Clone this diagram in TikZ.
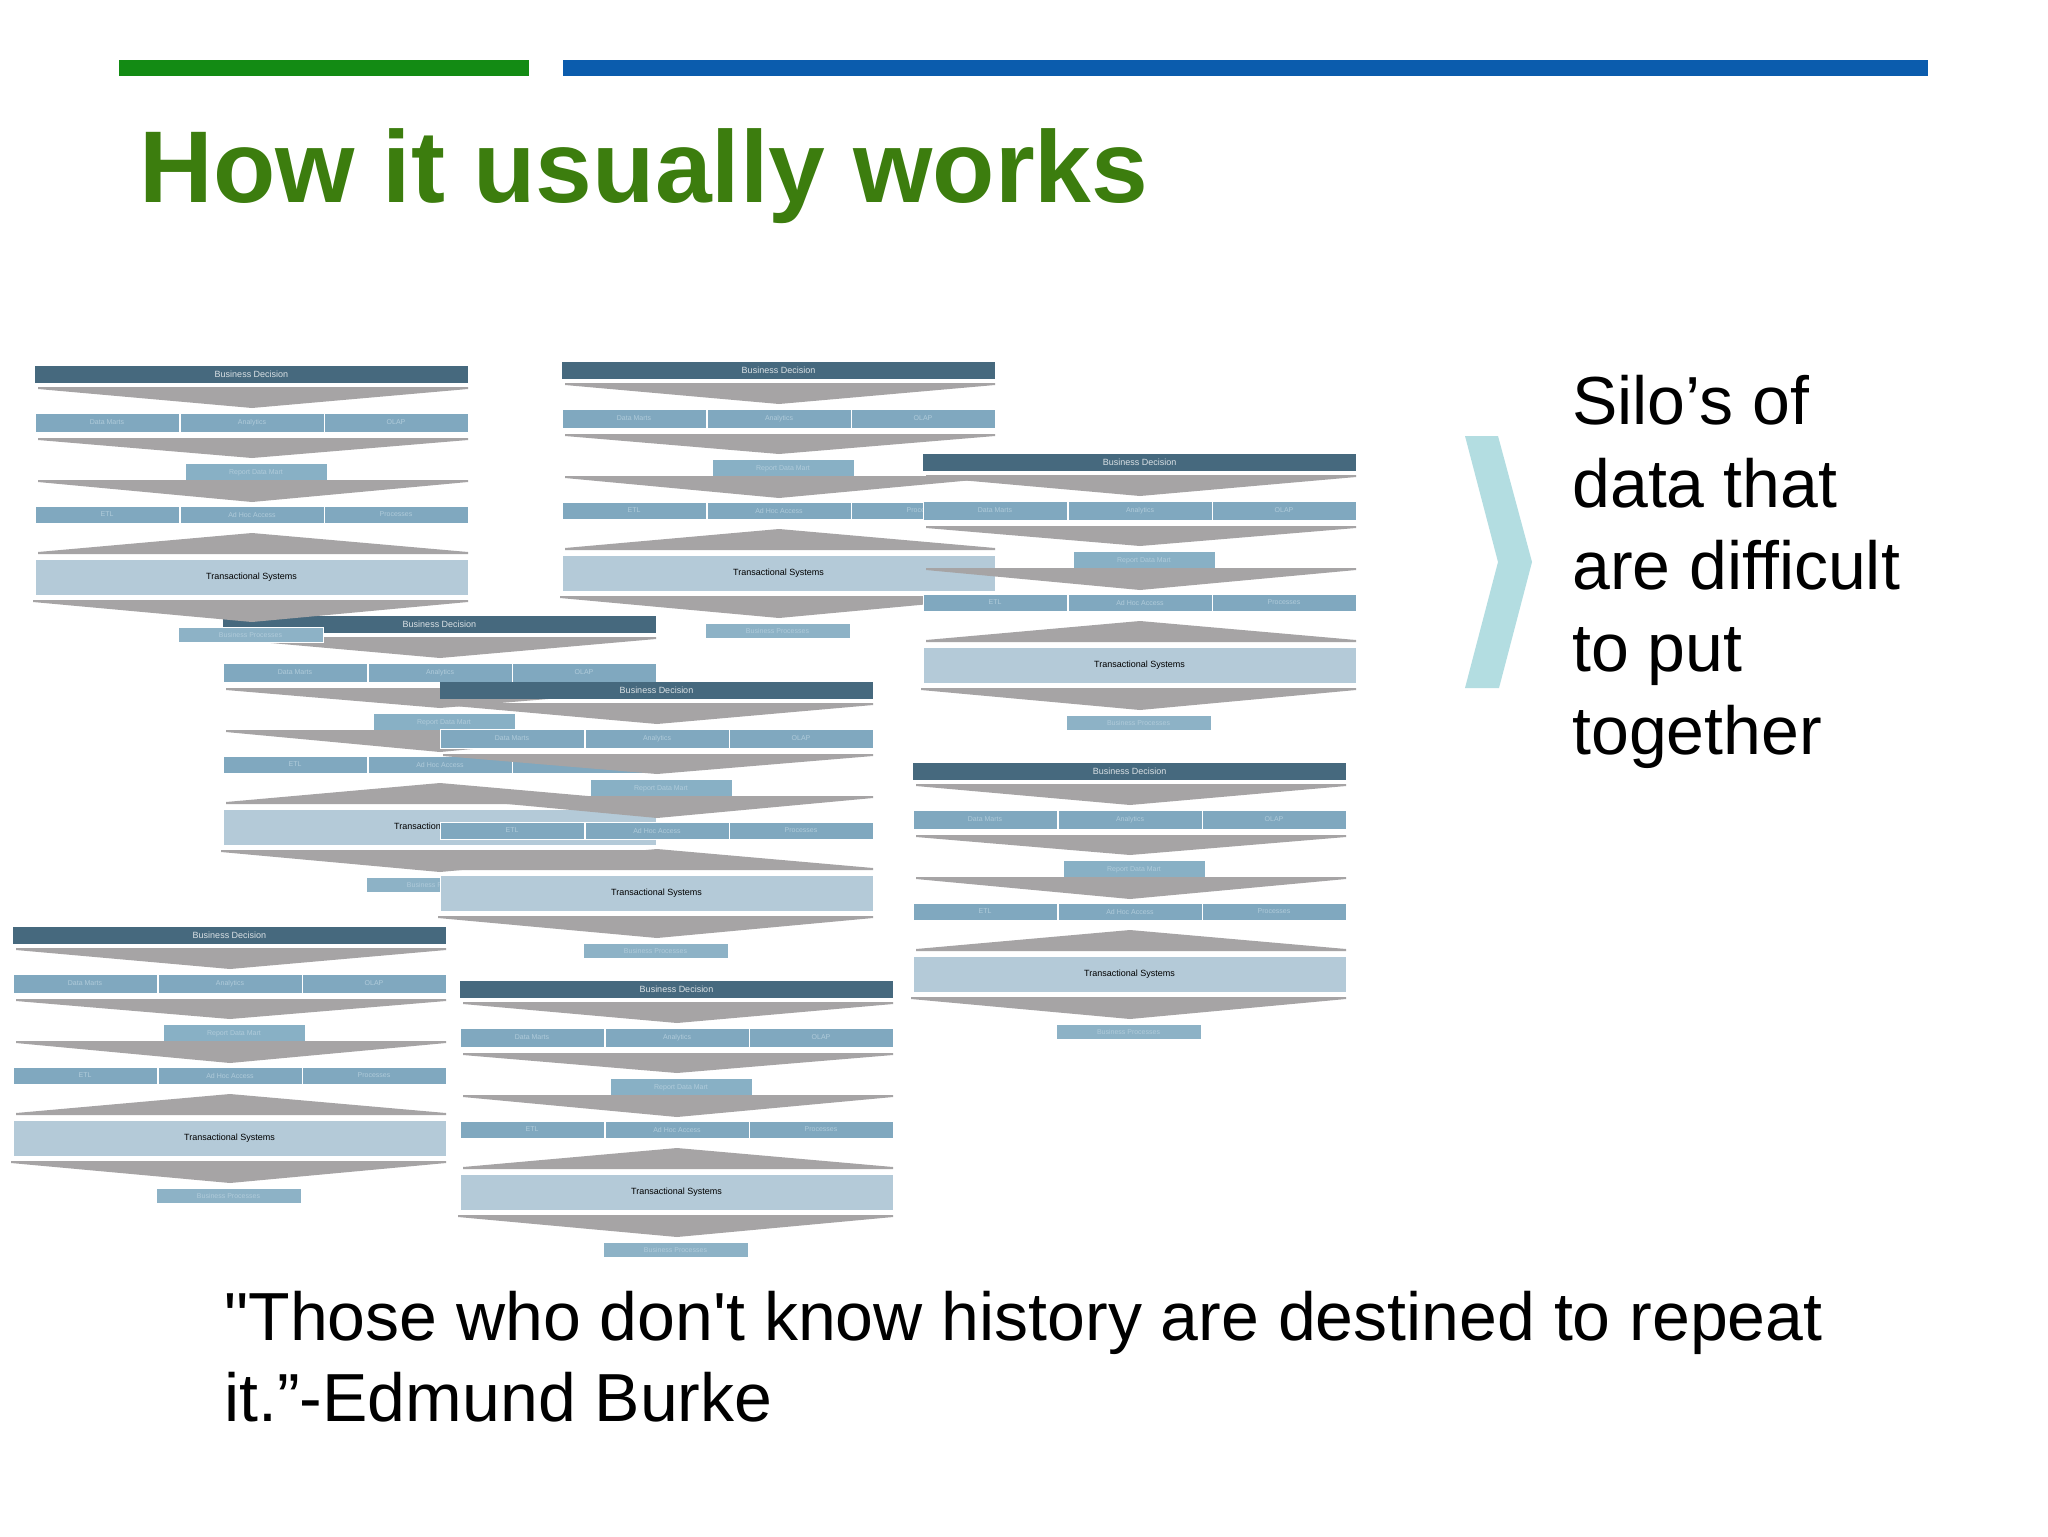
\documentclass[tikz,border=0pt]{standalone}
\usepackage{fontspec}
\setmainfont{Liberation Sans}
\usetikzlibrary{positioning}

\definecolor{titlegreen}{HTML}{3C7D0E}
\definecolor{rulegreen}{HTML}{138B14}
\definecolor{ruleblue}{HTML}{0B5CAD}
\definecolor{bdblue}{HTML}{46697E}
\definecolor{cellblue}{HTML}{80A8BF}
\definecolor{rptblue}{HTML}{88B0C5}
\definecolor{tsblue}{HTML}{B4CAD8}
\definecolor{bpblue}{HTML}{8DB2C6}
\definecolor{celltext}{HTML}{B0CBDA}
\definecolor{chevgray}{HTML}{A6A4A5}
\definecolor{chevteal}{HTML}{B3DDE1}

\tikzset{
  bdbar/.style={fill=bdblue, text=white!80!bdblue, minimum width=216.5pt, minimum height=8.5pt, inner sep=0pt, font=\fontsize{4.5}{5}\selectfont},
  cell/.style={fill=cellblue, draw=white, line width=0.5pt, text=celltext, minimum width=72pt, minimum height=9.5pt, inner sep=0pt, font=\fontsize{3.5}{4}\selectfont},
  rptbox/.style={cell, fill=rptblue, minimum width=71pt},
  tsbox/.style={cell, fill=tsblue, text=black, minimum width=216.5pt, minimum height=18pt, font=\fontsize{4.5}{5}\selectfont},
  bpbox/.style={cell, fill=bpblue, minimum width=72.5pt, minimum height=7.5pt},
  chev/.style={fill=chevgray},
  slidetext/.style={anchor=base west, inner sep=0pt, font=\fontsize{34}{41}\selectfont}
}

% one silo stack, #1 name, (#2,#3) top left corner
\newcommand{\silostack}[3]{%
\begin{scope}[shift={(#2,#3)}]
%Business decision bar
\node[bdbar] (#1-bd) at (216.5,8.5) {Business Decision};
\fill[chev] (3,21) -- (433,21) -- (433,23) -- (217,42) -- (3,23) -- cycle;
%Row one
\node[cell] (#1-a1) at (72,56.5) {Data Marts};
\node[cell] (#1-a2) at (217,56.5) {Analytics};
\node[cell] (#1-a3) at (361,56.5) {OLAP};
\fill[chev] (3,72) -- (433,72) -- (433,74) -- (217,92) -- (3,74) -- cycle;
%Report box
\node[rptbox] (#1-rpt) at (221,106.5) {Report Data Mart};
\fill[chev] (3,114) -- (433,114) -- (433,116) -- (217,136) -- (3,116) -- cycle;
%Row two
\node[cell, minimum height=8.5pt] (#1-b1) at (72,148.5) {ETL};
\node[cell, minimum height=8.5pt] (#1-b2) at (217,148.5) {Ad Hoc Access};
\node[cell, minimum height=8.5pt] (#1-b3) at (361,148.5) {Processes};
\fill[chev] (3,188) -- (3,186) -- (217,167) -- (433,186) -- (433,188) -- cycle;
%Transactional systems
\node[tsbox] (#1-ts) at (216.5,211) {Transactional Systems};
\fill[chev] (-2,234) -- (433,234) -- (433,236) -- (217,256) -- (-2,236) -- cycle;
\node[bpbox] (#1-bp) at (215.5,268.5) {Business Processes};
\end{scope}}

\begin{document}
\begin{tikzpicture}[x=0.5pt,y=0.5pt,yscale=-1,xscale=1]
\useasboundingbox (0,0) rectangle (2048,1536);
\fill[white] (0,0) rectangle (2048,1536);
%Rules on top
\fill[rulegreen] (119,60) rectangle (529,76);
\fill[ruleblue] (563,60) rectangle (1928,76);
% Title
\node[slidetext, font=\fontsize{51}{60}\selectfont\bfseries, text=titlegreen] (title) at (139,202) {How it usually works};
% Silo stacks
\silostack{b}{562}{362}
\silostack{c}{923}{454}
\silostack{d}{223}{616}
\silostack{a}{35}{366}
\silostack{e}{440}{682}
\silostack{f}{913}{763}
\silostack{g}{13}{927}
\silostack{h}{460}{981}
%Chevron
\fill[chevteal] (1465,436) -- (1498,436) -- (1532,562) -- (1499,688) -- (1465,688) -- (1498,562) -- cycle;
% Text Node
\node[slidetext] (silo1) at (1572,424) {Silo’s of};
\node[slidetext] (silo2) at (1572,507) {data that};
\node[slidetext] (silo3) at (1572,589) {are difficult};
\node[slidetext] (silo4) at (1572,671) {to put};
\node[slidetext] (silo5) at (1572,754) {together};
% Quote
\node[slidetext] (quote1) at (224,1340) {\textquotedbl Those who don\textquotesingle t know history are destined to repeat};
\node[slidetext] (quote2) at (224,1421) {it.”-Edmund Burke};
\end{tikzpicture}
\end{document}
